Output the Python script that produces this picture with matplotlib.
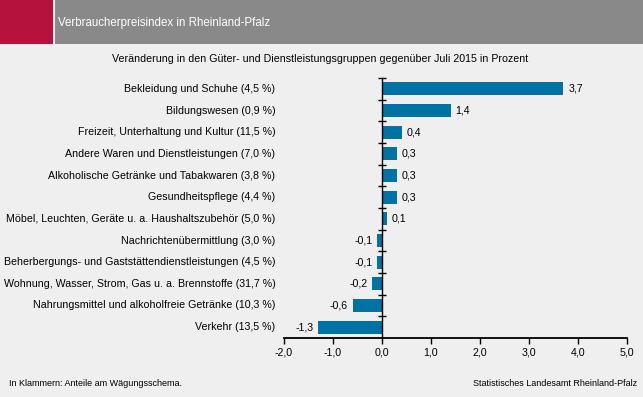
import matplotlib.pyplot as plt
from matplotlib.patches import Rectangle
import matplotlib.transforms as mtransforms

plt.rcParams['font.family'] = ['Liberation Sans', 'DejaVu Sans']

# Daten
kategorien = [
    "Bekleidung und Schuhe (4,5 %)",
    "Bildungswesen (0,9 %)",
    "Freizeit, Unterhaltung und Kultur (11,5 %)",
    "Andere Waren und Dienstleistungen (7,0 %)",
    "Alkoholische Getränke und Tabakwaren (3,8 %)",
    "Gesundheitspflege (4,4 %)",
    "Möbel, Leuchten, Geräte u. a. Haushaltszubehör (5,0 %)",
    "Nachrichtenübermittlung (3,0 %)",
    "Beherbergungs- und Gaststättendienstleistungen (4,5 %)",
    "Wohnung, Wasser, Strom, Gas u. a. Brennstoffe (31,7 %)",
    "Nahrungsmittel und alkoholfreie Getränke (10,3 %)",
    "Verkehr (13,5 %)",
]
werte = [3.7, 1.4, 0.4, 0.3, 0.3, 0.3, 0.1, -0.1, -0.1, -0.2, -0.6, -1.3]
xticks = [-2, -1, 0, 1, 2, 3, 4, 5]

bg = '#eeefee'
blau = '#0072a3'
fs = 7.7

fig = plt.figure(figsize=(6.43, 3.97), dpi=100)
fig.patch.set_facecolor(bg)

# Kopfzeile
fig.patches.append(Rectangle((0, 1 - 44/397), 53/643, 44/397, transform=fig.transFigure,
                             facecolor='#b5123e', edgecolor='none'))
fig.patches.append(Rectangle((55/643, 1 - 44/397), 1 - 55/643, 44/397, transform=fig.transFigure,
                             facecolor='#898989', edgecolor='none'))
fig.text(58/643, 1 - 23/397, "Verbraucherpreisindex in Rheinland-Pfalz", color='white',
         fontsize=8.3, va='center', ha='left')
fig.text(320/643, 1 - 59/397,
         "Veränderung in den Güter- und Dienstleistungsgruppen gegenüber Juli 2015 in Prozent",
         fontsize=fs, va='center', ha='center')

ax = fig.add_axes([284/643, 59/397, 343/643, (338 - 78)/397])
ax.set_facecolor(bg)

pos = list(range(len(kategorien)))
ax.barh(pos, werte, height=0.6, color=blau)
ax.set_xlim(-2, 5)
ax.set_ylim(len(kategorien) - 0.5, -0.5)

for p, w in zip(pos, werte):
    txt = f"{w:.1f}".replace('.', ',')
    if w >= 0:
        ax.text(w + 0.1, p, txt, va='center', ha='left', fontsize=fs)
    else:
        ax.text(w - 0.1, p, txt, va='center', ha='right', fontsize=fs)

trans = mtransforms.blended_transform_factory(ax.transAxes, ax.transData)
for p, k in zip(pos, kategorien):
    ax.text(-0.025, p, k, transform=trans, va='center', ha='right', fontsize=fs)

for s in ['top', 'right']:
    ax.spines[s].set_visible(False)
ax.spines['left'].set_position(('data', 0))
ax.spines['left'].set_linewidth(1)
ax.spines['bottom'].set_linewidth(1.3)

ax.set_yticks([p - 0.5 for p in pos])
ax.tick_params(axis='y', direction='inout', length=6, width=1, labelleft=False)
ax.set_xticks(xticks)
ax.set_xticklabels([f"{x:.1f}".replace('.', ',') for x in xticks], fontsize=fs)
ax.tick_params(axis='x', direction='out', length=4, width=1, pad=3)

fig.text(9/643, 1 - 384/397, "In Klammern: Anteile am Wägungsschema.", fontsize=6.5, va='center')
fig.text(637/643, 1 - 384/397, "Statistisches Landesamt Rheinland-Pfalz", fontsize=6.5,
         va='center', ha='right')

fig.savefig('out.png', dpi=100, facecolor=bg)
